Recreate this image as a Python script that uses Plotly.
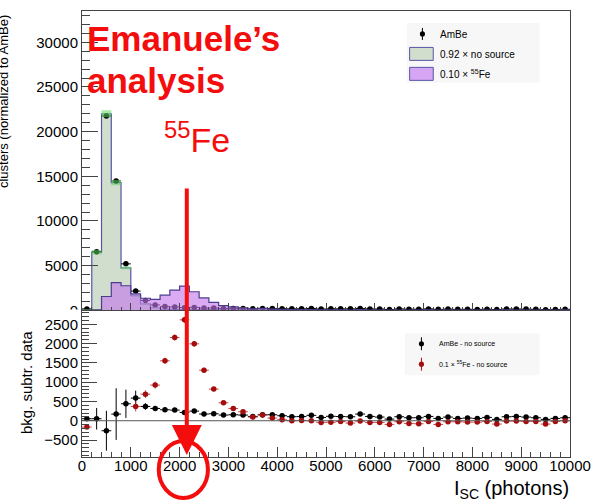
import numpy as np
import plotly.graph_objects as go

# ---------------- data ----------------
bin_edges = np.arange(0, 10001, 200)          # I_SC bins (photons)
bin_half = 100

# top panel: AmBe run and the two scaled reference samples
ambe = [150, 6560, 21750, 14480, 5200, 2150, 1100, 600, 420, 380,
        300, 330, 250, 250, 210, 215, 200, 180, 210, 210,
        190, 170, 170, 210, 150, 175, 165, 165, 215, 160,
        150, 100, 155, 130, 130, 160, 110, 140, 110, 115,
        105, 130, 80, 145, 150, 135, 120, 75, 100, 115]
ambe_err = [40, 90, 160, 130, 80, 50, 35, 28, 22, 20,
            18, 18, 16, 16, 15, 15, 15, 14, 15, 15,
            14, 13, 13, 15, 12, 13, 13, 13, 15, 13,
            12, 10, 13, 12, 12, 13, 11, 12, 11, 11,
            10, 12, 9, 12, 12, 12, 11, 9, 10, 11]

no_source = [100, 6500, 22000, 14300, 4750, 1650, 730, 290, 140, 110,
             90, 85, 80, 70, 65, 60, 55, 60, 55, 55,
             60, 55, 60, 65, 60, 60, 55, 60, 50, 50,
             55, 55, 50, 50, 50, 48, 50, 45, 50, 45,
             45, 45, 45, 42, 40, 40, 42, 40, 40, 40]
no_source_err = [60, 250, 380, 300, 150, 100, 70, 45, 35, 30,
                 30, 28, 28, 26, 26, 25, 25, 25, 25, 25,
                 25, 25, 25, 25, 25, 25, 25, 25, 24, 24,
                 24, 24, 24, 24, 24, 24, 24, 23, 23, 23,
                 23, 23, 23, 22, 22, 22, 22, 22, 22, 22]

fe55 = [10, 60, 1550, 3100, 2750, 1850, 1350, 1220, 1700, 2250,
        2700, 2080, 1390, 890, 530, 380, 290, 165, 210, 130,
        115, 90, 90, 85, 45, 50, 45, 20, 70, 35,
        30, 20, 35, 25, 25, 40, 20, 30, 30, 25,
        25, 35, 20, 40, 35, 30, 30, 20, 30, 40]

# bottom panel: background-subtracted spectra
ambe_sub = [52, 52, -259, 173, 440, 587, 371, 319, 285, 276,
            216, 250, 173, 181, 147, 155, 147, 112, 155, 155,
            130, 105, 108, 140, 85, 115, 108, 103, 173, 112,
            95, 43, 104, 78, 78, 112, 60, 95, 60, 69,
            60, 86, 35, 104, 112, 95, 78, 35, 60, 78]
ambe_sub_err = [45, 280, 517, 670, 367, 194, 85, 55, 48, 45,
                42, 42, 40, 40, 38, 38, 38, 36, 38, 38,
                37, 36, 36, 37, 35, 36, 36, 36, 37, 36,
                35, 34, 35, 35, 35, 35, 34, 35, 34, 34,
                34, 35, 33, 35, 35, 35, 34, 33, 34, 34]

fe_sub = [-164, None, None, None, None, 371, 690, 924, 1554, 2158,
          2616, 1994, 1312, 820, 466, 319, 233, 95, 147, 69,
          26, 0, 5, 0, -43, -39, -22, -60, -9, -43,
          -43, -95, -26, -69, -78, -17, -95, -26, -26, -35,
          -35, -17, -86, -9, -9, -17, -17, -86, -17, 0]
fe_sub_err = [45, 0, 0, 0, 0, 130, 100, 90, 80, 80,
              80, 75, 65, 55, 50, 45, 45, 40, 40, 40,
              38, 38, 38, 38, 38, 38, 38, 38, 38, 38,
              36, 36, 36, 36, 36, 36, 36, 36, 36, 36,
              35, 35, 35, 35, 35, 35, 35, 35, 35, 35]

x_tick_vals = list(range(0, 10001, 1000))

# ---------------- styling ----------------
FONT = "Liberation Sans"
GREEN_FILL = "rgb(209,222,206)"
GREEN_BAND = "rgba(95,215,95,0.55)"
PURPLE_FILL = "rgba(195,120,235,0.62)"
HIST_LINE = "#5656a6"
PURPLE_LINE = "#4b3c8f"
RED = "#a30d0d"
AXIS = "#444"
CALLOUT = "#f40d0d"

# plot-area geometry in pixels (used for decorations placed in paper space)
L, R, T, B = 82, 578, 10, 457


def px_x(p):
    return (p - L) / (R - L)


def px_y(p):
    return (B - p) / (B - T)


centers = (bin_edges[:-1] + bin_edges[1:]) / 2


def step_xy(values):
    return list(bin_edges), list(values) + [values[-1]]


def band_xy(values, errs):
    xs, ys = [], []
    for c, v, e in zip(centers, values, errs):
        lo, hi = v - e, v + e
        xs += [c - bin_half, c + bin_half, c + bin_half, c - bin_half, c - bin_half, None]
        ys += [lo, lo, hi, hi, lo, None]
    return xs, ys


fig = go.Figure()

# no-source histogram
sx, sy = step_xy(no_source)
fig.add_trace(go.Scatter(x=sx, y=sy, mode="lines", line=dict(shape="hv", color=HIST_LINE, width=1.2),
                         fill="tozeroy", fillcolor=GREEN_FILL, xaxis="x", yaxis="y", hoverinfo="skip"))

# AmBe data points
fig.add_trace(go.Scatter(x=centers, y=ambe, mode="markers", xaxis="x", yaxis="y",
                         marker=dict(color="black", size=5.5),
                         error_x=dict(type="constant", value=bin_half, color="black", thickness=1, width=0),
                         error_y=dict(type="data", array=ambe_err, color="black", thickness=1, width=0)))

# uncertainty band of the no-source histogram
bx, by = band_xy(no_source, no_source_err)
fig.add_trace(go.Scatter(x=bx, y=by, mode="lines", line=dict(width=0), fill="toself",
                         fillcolor=GREEN_BAND, xaxis="x", yaxis="y", hoverinfo="skip"))

# 55Fe histogram
fx, fy = step_xy(fe55)
fig.add_trace(go.Scatter(x=fx, y=fy, mode="lines", line=dict(shape="hv", color=PURPLE_LINE, width=1.2),
                         fill="tozeroy", fillcolor=PURPLE_FILL, xaxis="x", yaxis="y", hoverinfo="skip"))

# bottom panel
fig.add_trace(go.Scatter(x=centers, y=ambe_sub, mode="markers", xaxis="x2", yaxis="y2",
                         marker=dict(color="black", size=5.5),
                         error_x=dict(type="constant", value=bin_half, color="black", thickness=1, width=0),
                         error_y=dict(type="data", array=ambe_sub_err, color="black", thickness=1, width=0)))
fig.add_trace(go.Scatter(x=centers, y=fe_sub, mode="markers", xaxis="x2", yaxis="y2",
                         marker=dict(color=RED, size=5.5),
                         error_x=dict(type="constant", value=bin_half, color="rgba(190,40,40,0.85)", thickness=1, width=0),
                         error_y=dict(type="data", array=fe_sub_err, color="rgba(190,40,40,0.85)", thickness=1, width=0)))

tickfont = dict(family=FONT, size=15, color="black")
common = dict(showline=True, mirror=True, linecolor=AXIS, linewidth=1, showgrid=False, zeroline=False,
              ticks="inside", tickcolor=AXIS, tickwidth=1, tickformat="d", exponentformat="none")

fig.update_layout(
    width=601, height=504,
    margin=dict(l=L, r=601 - R, t=T, b=504 - B),
    paper_bgcolor="white", plot_bgcolor="white",
    showlegend=False,
    xaxis=dict(domain=[0, 1], anchor="y", range=[0, 10000], tickvals=x_tick_vals, showticklabels=False,
               ticklen=7, minor=dict(dtick=200, tick0=0, ticklen=3.5, ticks="inside", tickcolor=AXIS, showgrid=False),
               **common),
    yaxis=dict(domain=[px_y(310), 1], anchor="x", range=[0, 33500], dtick=5000, tick0=0, ticklen=16,
               tickfont=tickfont, minor=dict(dtick=1000, tick0=0, ticklen=8, ticks="inside", tickcolor=AXIS, showgrid=False),
               **common),
    xaxis2=dict(domain=[0, 1], anchor="y2", range=[0, 10000], tickvals=x_tick_vals, ticklen=10,
                ticklabelstandoff=-5,
                tickfont=tickfont, minor=dict(dtick=200, tick0=0, ticklen=5, ticks="inside", tickcolor=AXIS, showgrid=False),
                **common),
    yaxis2=dict(domain=[0, px_y(310.5)], anchor="x2", range=[-940, 2850], dtick=500, tick0=0, ticklen=15,
                tickfont=tickfont, minor=dict(dtick=100, tick0=0, ticklen=7, ticks="inside", tickcolor=AXIS, showgrid=False),
                **common),
)

shapes = []
# zero line of the subtracted spectra
shapes.append(dict(type="line", xref="x2 domain", x0=0, x1=1, yref="y2", y0=0, y1=0,
                   line=dict(color="#555", width=1)))
# the lower pad hides the bottom of the upper pad's "0" label
shapes.append(dict(type="rect", xref="paper", yref="paper", x0=px_x(40), x1=px_x(81), y0=px_y(309.2), y1=px_y(317.5),
                   fillcolor="white", line=dict(width=0), layer="above"))

# highlight circle around 2000 photons
shapes.append(dict(type="circle", xref="paper", yref="paper", x0=px_x(160), x1=px_x(210), y0=px_y(498), y1=px_y(441),
                   line=dict(color=CALLOUT, width=4)))

# ----- legends -----
LEG_BG = "rgba(240,240,240,0.55)"
shapes.append(dict(type="rect", xref="paper", yref="paper", x0=px_x(412), x1=px_x(547), y0=px_y(82), y1=px_y(22),
                   fillcolor=LEG_BG, line=dict(width=0)))
shapes.append(dict(type="rect", xref="paper", yref="paper", x0=px_x(410), x1=px_x(547), y0=px_y(375), y1=px_y(333),
                   fillcolor=LEG_BG, line=dict(width=0)))


def marker_symbol(cx, cy, color, half):
    shapes.append(dict(type="line", xref="paper", yref="paper", x0=px_x(cx), x1=px_x(cx),
                       y0=px_y(cy - half), y1=px_y(cy + half), line=dict(color=color, width=1)))
    shapes.append(dict(type="circle", xref="paper", yref="paper", x0=px_x(cx - 2.6), x1=px_x(cx + 2.6),
                       y0=px_y(cy + 2.6), y1=px_y(cy - 2.6), fillcolor=color, line=dict(color=color, width=0)))


marker_symbol(428, 33, "black", 6)
shapes.append(dict(type="rect", xref="paper", yref="paper", x0=px_x(415), x1=px_x(439), y0=px_y(59.5), y1=px_y(46.5),
                   fillcolor=GREEN_FILL, line=dict(color=HIST_LINE, width=1)))
shapes.append(dict(type="rect", xref="paper", yref="paper", x0=px_x(415), x1=px_x(439), y0=px_y(79.5), y1=px_y(66.5),
                   fillcolor="rgb(214,166,245)", line=dict(color=HIST_LINE, width=1)))
marker_symbol(427, 343.5, "black", 6.5)
marker_symbol(427, 364, RED, 6.5)

annotations = []


def label(text, x, y, size, color="black", xanchor="left", yanchor="middle", angle=0, bold=False, family=FONT):
    annotations.append(dict(text=f"<b>{text}</b>" if bold else text, xref="paper", yref="paper",
                            x=px_x(x), y=px_y(y), xanchor=xanchor, yanchor=yanchor, showarrow=False,
                            textangle=angle, font=dict(family=family, size=size, color=color)))


label("AmBe", 444, 33.5, 10)
label("0.92 × no source", 444, 53.5, 10)
label("0.10 × <sup>55</sup>Fe", 444, 73, 10)
label("AmBe - no source", 443, 343.5, 7)
label("0.1 × <sup>55</sup>Fe - no source", 443, 364, 7)

# axis titles
label("I<sub>SC</sub> (photons)", 579, 490, 20, xanchor="right")
label("bkg. subtr. data", 25, 382, 15, xanchor="center", angle=-90)
label("clusters (normalized to AmBe)", 3, 101, 13, xanchor="center", angle=-90)

# red call-outs
label("Emanuele’s", 85, 38, 35, color=CALLOUT, bold=True)
label("analysis", 85, 80, 35, color=CALLOUT, bold=True)
label("<sup>55</sup>Fe", 163, 137, 34, color=CALLOUT)

# arrow pointing at ~2000 photons
annotations.append(dict(text="", xref="paper", yref="paper", x=px_x(188.5), y=px_y(455),
                        axref="pixel", ayref="pixel", ax=0, ay=-(455 - 187), showarrow=True,
                        arrowhead=2, arrowsize=1.5, arrowwidth=4, arrowcolor=CALLOUT, standoff=0))

fig.update_layout(shapes=shapes, annotations=annotations)

fig.write_html("out.html")
